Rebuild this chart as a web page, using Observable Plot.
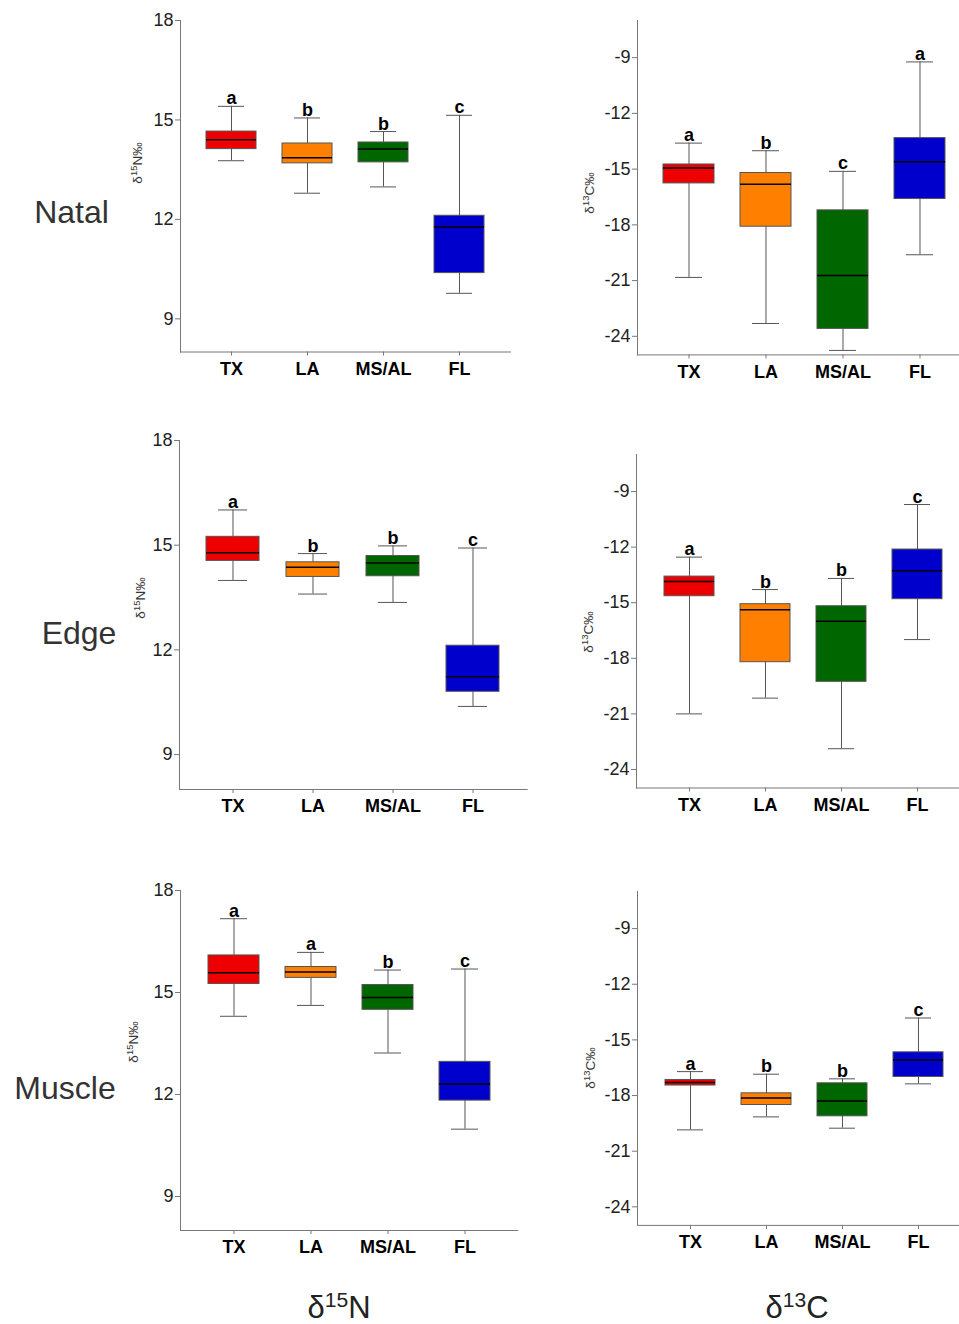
<!DOCTYPE html>
<html>
<head>
<meta charset="utf-8">
<script src="https://cdn.jsdelivr.net/npm/d3@7"></script>
<script src="https://cdn.jsdelivr.net/npm/@observablehq/plot@0.6"></script>
<style>
  html, body { margin: 0; padding: 0; background: #fff; }
  body { width: 959px; height: 1324px; position: relative; overflow: hidden; font-family: "Liberation Sans", Arial, sans-serif; }
  .panel { position: absolute; }
  .panel svg { max-width: none !important; }
  .row { position: absolute; font-size: 32px; color: #333; line-height: 1; transform: translate(-50%, -50%); white-space: nowrap; }
  .col { position: absolute; font-size: 31px; color: #222; line-height: 1; transform: translate(-50%, -50%); white-space: nowrap; }
  .col sup { font-size: 0.68em; vertical-align: 0.55em; }
  .ytitle { position: absolute; font-size: 13.5px; color: #333; line-height: 1; white-space: nowrap; transform: translate(-50%, -50%) rotate(-90deg); }
  .ytitle sup { font-size: 0.7em; vertical-align: 0.5em; }
</style>
</head>
<body>
<script>
// ---- data ----
const categories = ["TX", "LA", "MS/AL", "FL"];
const boxColors = ["#ee0000", "#ff8000", "#006600", "#0000cc"];
const nTicks = [9, 12, 15, 18];
const cTicks = [-24, -21, -18, -15, -12, -9];

// five-number summaries per category: [min, q1, median, q3, max]
const natalN = [[13.77, 14.12, 14.40, 14.65, 15.41], [12.79, 13.69, 13.86, 14.29, 15.06], [12.98, 13.72, 14.12, 14.32, 14.65], [9.77, 10.38, 11.77, 12.11, 15.14]];
const natalC = [[-20.83, -15.77, -14.94, -14.75, -13.60], [-23.31, -18.10, -15.82, -15.21, -14.01], [-24.76, -23.60, -20.72, -17.22, -15.12], [-19.61, -16.61, -14.60, -13.33, -9.23]];
const edgeN = [[13.99, 14.55, 14.78, 15.24, 16.01], [13.60, 14.09, 14.37, 14.51, 14.76], [13.36, 14.11, 14.49, 14.69, 14.98], [10.38, 10.80, 11.23, 12.12, 14.92]];
const edgeC = [[-21.00, -14.65, -13.86, -13.59, -12.54], [-20.15, -18.21, -15.38, -15.08, -14.29], [-22.88, -19.27, -16.00, -15.19, -13.69], [-16.99, -14.81, -13.28, -12.13, -9.70]];
const muscleN = [[14.30, 15.25, 15.58, 16.09, 17.17], [14.62, 15.43, 15.60, 15.75, 16.18], [13.22, 14.49, 14.85, 15.22, 15.66], [10.98, 11.82, 12.31, 12.96, 15.69]];
const muscleC = [[-19.85, -17.46, -17.30, -17.16, -16.71], [-19.15, -18.51, -18.13, -17.88, -16.85], [-19.76, -19.12, -18.29, -17.34, -17.10], [-17.37, -17.00, -16.08, -15.67, -13.82]];

const natalNLetters = ["a", "b", "b", "c"];
const natalCLetters = ["a", "b", "c", "a"];
const edgeNLetters = ["a", "b", "b", "c"];
const edgeCLetters = ["a", "b", "b", "c"];
const muscleNLetters = ["a", "a", "b", "c"];
const muscleCLetters = ["a", "b", "b", "c"];

const rowLabels = ["Natal", "Edge", "Muscle"];

// ---- drawing ----
const FONT = "'Liberation Sans', Arial, sans-serif";

function panel(stats, letters, g) {
  const rows = categories.map((c, i) => ({
    cat: c, min: stats[i][0], q1: stats[i][1], med: stats[i][2], q3: stats[i][3], max: stats[i][4], letter: letters[i]
  }));
  const mL = 70, mR = 20, mT = 25, mB = 50;
  const width = (g.right - g.left) + mL + mR;
  const height = (g.bottom - g.top) + mT + mB;
  const chart = Plot.plot({
    width, height,
    marginLeft: mL, marginRight: mR, marginTop: mT, marginBottom: mB,
    style: { fontFamily: FONT, background: "transparent", overflow: "visible", maxWidth: "none" },
    x: { type: "band", domain: categories, padding: 0.34, label: null },
    y: { domain: g.domain, label: null },
    color: { domain: categories, range: boxColors },
    marks: [
      Plot.axisY({ ticks: g.ticks, tickFormat: d => String(d), tickSize: 5, tickPadding: 2, fontSize: 18, color: "#222", stroke: "#777", label: null }),
      Plot.axisX({ tickSize: 4, tickPadding: 6, fontSize: 18, fontWeight: "bold", color: "#000", stroke: "#777", label: null }),
      Plot.frame({ anchor: "left", stroke: "#777" }),
      Plot.frame({ anchor: "bottom", stroke: "#777" }),
      Plot.ruleX(rows, { x: "cat", y1: "min", y2: "max", stroke: "#555", strokeWidth: 1 }),
      Plot.tickY(rows, { x: "cat", y: "max", stroke: "#555", insetLeft: 12, insetRight: 12 }),
      Plot.tickY(rows, { x: "cat", y: "min", stroke: "#555", insetLeft: 12, insetRight: 12 }),
      Plot.barY(rows, { x: "cat", y1: "q1", y2: "q3", fill: "cat", stroke: "#555", strokeWidth: 1 }),
      Plot.tickY(rows, { x: "cat", y: "med", stroke: "#000", strokeWidth: 1.5 }),
      Plot.text(rows, { x: "cat", y: "max", text: "letter", dy: -2, fontSize: 18, fontWeight: "bold", fill: "#000", lineAnchor: "bottom" })
    ]
  });
  const div = document.createElement("div");
  div.className = "panel";
  div.style.left = (g.left - mL) + "px";
  div.style.top = (g.top - mT) + "px";
  div.style.width = width + "px";
  div.style.height = height + "px";
  div.appendChild(chart);
  document.body.appendChild(div);
}

const nDomain = [8, 18];
const cDomain = [-25, -7];

panel(natalN, natalNLetters, { left: 180, right: 510, top: 20, bottom: 351.5, domain: nDomain, ticks: nTicks });
panel(natalC, natalCLetters, { left: 636.7, right: 971, top: 20.2, bottom: 354.6, domain: cDomain, ticks: cTicks });
panel(edgeN, edgeNLetters, { left: 179.3, right: 527, top: 440, bottom: 789, domain: nDomain, ticks: nTicks });
panel(edgeC, edgeCLetters, { left: 635.7, right: 969, top: 454, bottom: 787.5, domain: cDomain, ticks: cTicks });
panel(muscleN, muscleNLetters, { left: 180, right: 517.3, top: 890, bottom: 1230, domain: nDomain, ticks: nTicks });
panel(muscleC, muscleCLetters, { left: 636.7, right: 970.7, top: 890.6, bottom: 1224.5, domain: cDomain, ticks: cTicks });

// row labels
const rowPos = [[71.5, 212], [79, 633], [65, 1088]];
rowLabels.forEach((t, i) => {
  const d = document.createElement("div");
  d.className = "row";
  d.textContent = t;
  d.style.left = rowPos[i][0] + "px";
  d.style.top = rowPos[i][1] + "px";
  document.body.appendChild(d);
});

// y-axis titles
const yTitles = [
  ["15", "N", 136.5, 163], ["13", "C", 589, 193],
  ["15", "N", 140, 598], ["13", "C", 588, 632],
  ["15", "N", 133, 1042], ["13", "C", 590, 1068]
];
yTitles.forEach(([iso, el, x, y]) => {
  const d = document.createElement("div");
  d.className = "ytitle";
  d.innerHTML = "δ<sup>" + iso + "</sup>" + el + "‰";
  d.style.left = x + "px";
  d.style.top = y + "px";
  document.body.appendChild(d);
});

// column labels
[["15", "N", 339, 1306], ["13", "C", 797, 1306]].forEach(([iso, el, x, y]) => {
  const d = document.createElement("div");
  d.className = "col";
  d.innerHTML = "δ<sup>" + iso + "</sup>" + el;
  d.style.left = x + "px";
  d.style.top = y + "px";
  document.body.appendChild(d);
});
</script>
</body>
</html>
